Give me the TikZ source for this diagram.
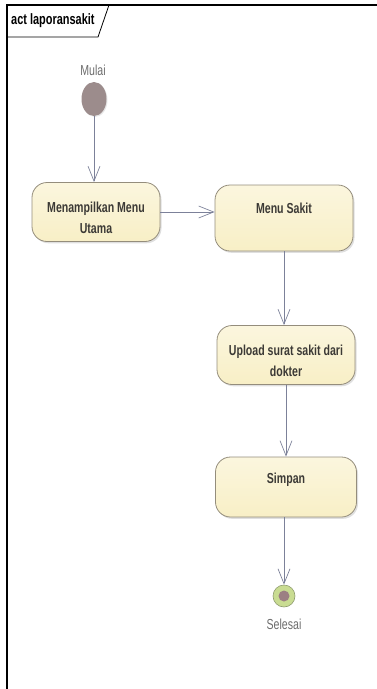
\documentclass[tikz,border=0pt]{standalone}
\usepackage{fontspec}
\setmainfont{Liberation Sans}[FakeStretch=0.73]
\usetikzlibrary{arrows.meta,shadows,shapes.geometric}
\definecolor{actfill}{HTML}{F8EFC6}
\definecolor{actfilltop}{HTML}{FBF6DE}
\definecolor{actline}{HTML}{948D7C}
\definecolor{flowline}{HTML}{7C8199}
\definecolor{txt}{HTML}{3C3A36}
\definecolor{startfill}{HTML}{9C8C8C}
\definecolor{endring}{HTML}{C9DC92}
\definecolor{endedge}{HTML}{8F9C70}
\definecolor{endcore}{HTML}{9C8083}
% two centred lines, lowered a little below the middle of the box
\newcommand{\twolines}[3]{\raisebox{#3}[0pt][0pt]{\begin{tabular}{@{}c@{}}#1\\#2\end{tabular}}}
\tikzset{
  action/.style={draw=actline, line width=0.8pt, rounded corners=15pt,
    top color=actfilltop, bottom color=actfill,
    drop shadow={shadow xshift=1.5pt, shadow yshift=-1.8pt, opacity=0.25},
    font=\bfseries\fontsize{14.5}{21}\selectfont, text=txt},
  flow/.style={draw=flowline, line width=0.7pt,
    -{Straight Barb[length=15pt, width=12pt, line width=0.7pt]}},
  caption/.style={font=\fontsize{14.5}{16}\selectfont, text=gray!85!black},
}
\begin{document}
\begin{tikzpicture}[x=1pt, y=-1pt]
\useasboundingbox (0,0) rectangle (377,689);
% diagram frame and its name tab
\draw[line width=1.3pt] (7,689) -- (7,5) -- (377,5);
\draw[line width=0.8pt] (7,37) -- (98,37) -- (109,5);
\node[anchor=west, font=\bfseries\fontsize{15}{17}\selectfont, inner sep=0pt] (title) at (11,21) {act laporansakit};

% initial node
\node[caption] (mulaiLabel) at (93,70) {Mulai};
\node[ellipse, fill=startfill, minimum width=25pt, minimum height=34pt, inner sep=0pt,
  drop shadow={shadow xshift=1pt, shadow yshift=-1pt, opacity=0.2}] (start) at (94,99) {};

% actions
\node[action, minimum width=128pt, minimum height=59pt]
  (menu) at (96,212) {\twolines{Menampilkan Menu}{Utama}{-10pt}};
\node[action, minimum width=138pt, minimum height=66pt, text height=10.5pt, text depth=20pt]
  (sakit) at (284,218) {Menu Sakit};
\node[action, minimum width=138pt, minimum height=59pt]
  (upload) at (286,355) {\twolines{Upload surat sakit dari}{dokter}{-10pt}};
\node[action, minimum width=141pt, minimum height=60pt, text height=10.5pt, text depth=17pt]
  (simpan) at (286,487) {Simpan};

% final node
\node[circle, draw=endedge, line width=0.6pt, fill=endring, minimum size=22pt, inner sep=0pt]
  (stop) at (284,596) {};
\node[circle, fill=endcore, minimum size=11pt, inner sep=0pt] (stopCore) at (stop.center) {};
\node[caption] (selesaiLabel) at (284,624) {Selesai};

% control flows
\draw[flow] (start.south) -- (menu.north -| start.south);
\draw[flow] (menu.east) -- (menu.east -| sakit.west);
\draw[flow] (sakit.south) -- (sakit.south |- upload.north);
\draw[flow] (upload.south) -- (simpan.north);
\draw[flow] (simpan.south -| stop.north) -- (stop.north);
\end{tikzpicture}
\end{document}
